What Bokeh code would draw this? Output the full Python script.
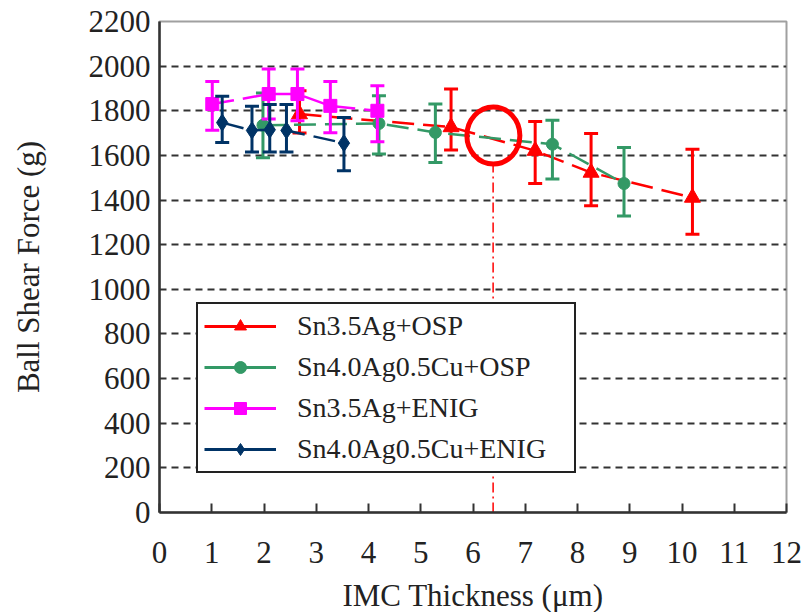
from bokeh.plotting import figure
from bokeh.models import Range1d, FixedTicker, Legend, LegendItem
from bokeh.embed import file_html
from bokeh.resources import INLINE

# ---------------- data ----------------
x_ticks = list(range(0, 13))
y_ticks = list(range(0, 2201, 200))

series_names = ["Sn3.5Ag+OSP", "Sn4.0Ag0.5Cu+OSP", "Sn3.5Ag+ENIG", "Sn4.0Ag0.5Cu+ENIG"]

sn35_osp_x = [2.68, 5.58, 7.19, 8.26, 10.20]
sn35_osp_y = [1785, 1727, 1621, 1523, 1411]
sn35_osp_hi = [1890, 1897, 1752, 1698, 1628]
sn35_osp_lo = [1700, 1624, 1474, 1374, 1247]

sn40_osp_x = [1.98, 4.20, 5.28, 7.52, 8.89]
sn40_osp_y = [1735, 1743, 1703, 1650, 1474]
sn40_osp_hi = [1880, 1867, 1830, 1758, 1635]
sn40_osp_lo = [1590, 1606, 1568, 1494, 1329]

sn35_enig_x = [1.01, 2.09, 2.64, 3.27, 4.17]
sn35_enig_y = [1830, 1875, 1875, 1822, 1800]
sn35_enig_hi = [1931, 1987, 1987, 1931, 1912]
sn35_enig_lo = [1713, 1763, 1755, 1702, 1661]

sn40_enig_x = [1.20, 1.77, 2.11, 2.43, 3.53]
sn40_enig_y = [1747, 1712, 1715, 1712, 1655]
sn40_enig_hi = [1865, 1820, 1828, 1828, 1770]
sn40_enig_lo = [1658, 1615, 1615, 1615, 1531]

# highlighted point (red ring) and its drop line
ring_x = [6.39]
ring_y = [1689]
drop_x = [6.385]
drop_top = [1555]
drop_bottom = [0]

colors = ["#FF0000", "#339966", "#FF00FF", "#003366"]
markers = ["triangle", "circle", "square", "diamond"]
msizes = [16, 12, 13, 17]

FONT = "Liberation Serif"
TXT = "#222222"
NAN = float("nan")

p = figure(frame_width=627, frame_height=491,
           x_range=Range1d(0, 12), y_range=Range1d(0, 2200),
           output_backend="svg", toolbar_location=None,
           min_border_left=159, min_border_right=16,
           min_border_top=21, min_border_bottom=100,
           background_fill_color="white", border_fill_color="white")

p.outline_line_color = "#a0a0a0"
p.outline_line_width = 2

# axes
p.xaxis.ticker = FixedTicker(ticks=x_ticks)
p.yaxis.ticker = FixedTicker(ticks=y_ticks)
for ax in (p.xaxis[0], p.yaxis[0]):
    ax.axis_line_color = "#333333"
    ax.axis_line_width = 2.5
    ax.minor_tick_line_color = None
    ax.major_label_text_font = FONT
    ax.major_label_text_font_size = "31px"
    ax.major_label_text_color = TXT
    ax.axis_label_text_font = FONT
    ax.axis_label_text_font_size = "31px"
    ax.axis_label_text_font_style = "normal"
    ax.axis_label_text_color = TXT
p.xaxis.major_tick_in = 9
p.xaxis.major_tick_out = 0
p.xaxis.major_tick_line_width = 2
p.xaxis.major_tick_line_color = "#333333"
p.yaxis.major_tick_in = 0
p.yaxis.major_tick_out = 0
p.xaxis.major_label_standoff = 29
p.yaxis.major_label_standoff = 9
p.xaxis.axis_label = "IMC Thickness (μm)"
p.yaxis.axis_label = "Ball Shear Force (g)"
p.xaxis.axis_label_standoff = 12
p.yaxis.axis_label_standoff = 40

p.xgrid.visible = False
p.ygrid.ticker = FixedTicker(ticks=y_ticks[1:-1])
p.ygrid.grid_line_color = "#333333"
p.ygrid.grid_line_width = 2
p.ygrid.grid_line_dash = "7 5"

# drop line + ring
p.segment(x0=drop_x, y0=drop_bottom, x1=drop_x, y1=drop_top,
          line_color="#FF0000", line_width=1.5, line_dash="10 4 2 4")

all_series = [
    (sn35_osp_x, sn35_osp_y, sn35_osp_hi, sn35_osp_lo),
    (sn40_osp_x, sn40_osp_y, sn40_osp_hi, sn40_osp_lo),
    (sn35_enig_x, sn35_enig_y, sn35_enig_hi, sn35_enig_lo),
    (sn40_enig_x, sn40_enig_y, sn40_enig_hi, sn40_enig_lo),
]

items = []
for (xs, ys, hi, lo), c, m, s, name in zip(all_series, colors, markers, msizes, series_names):
    p.line(xs, ys, line_color=c, line_width=2.5, line_dash="22 9")
    p.segment(x0=xs, y0=lo, x1=xs, y1=hi, line_color=c, line_width=3)
    p.scatter(xs, hi, marker="dash", size=14, line_color=c, line_width=3)
    p.scatter(xs, lo, marker="dash", size=14, line_color=c, line_width=3)
    p.scatter(xs, ys, marker=m, size=s, fill_color=c, line_color=c)
    # legend proxies (solid line + marker), no visible data
    lr = p.line([NAN], [NAN], line_color=c, line_width=3)
    mr = p.scatter([NAN], [NAN], marker=m, size=s, fill_color=c, line_color=c)
    items.append(LegendItem(label=name, renderers=[lr, mr]))

p.ellipse(x=ring_x, y=ring_y, width=53, height=57,
          width_units="screen", height_units="screen",
          fill_alpha=0, line_color="#FF0000", line_width=5)

legend = Legend(items=items, location=(37, 39),
                label_text_font=FONT, label_text_font_size="28px",
                label_text_color=TXT,
                glyph_width=72, glyph_height=30, label_height=30,
                label_standoff=21, label_width=271,
                spacing=9, padding=6, margin=0,
                border_line_color="#222222", border_line_width=2,
                border_line_alpha=1,
                background_fill_color="white", background_fill_alpha=1)
p.add_layout(legend, "center")

open("out.html", "w").write(file_html(p, INLINE))
